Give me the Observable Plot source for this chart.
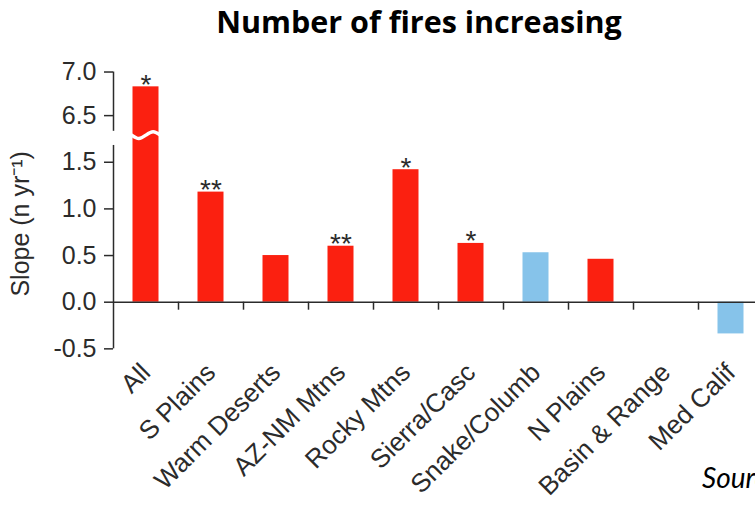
<!DOCTYPE html>
<html>
<head>
<meta charset="utf-8">
<script src="https://cdn.jsdelivr.net/npm/d3@7"></script>
<script src="https://cdn.jsdelivr.net/npm/@observablehq/plot@0.6"></script>
<style>
  html, body { margin: 0; padding: 0; background: #fff; width: 755px; height: 509px; overflow: hidden; }
  #page { position: relative; width: 755px; height: 509px; overflow: hidden; }
  #title { height: 46px; position: relative; }
  #title span {
    position: absolute; left: 419px; top: 3px; transform: translateX(-50%);
    font-family: "Open Sans", Lato, sans-serif; font-weight: 700; font-size: 30.5px;
    white-space: nowrap; color: #000; line-height: 1.2;
  }
  #source {
    position: absolute; left: 702px; top: 460px; white-space: nowrap;
    font-family: Lato, "Open Sans", sans-serif; font-style: italic; font-size: 28px; color: #000;
  }
</style>
</head>
<body>
<div id="page">
  <div id="title"><span>Number of fires increasing</span></div>
  <div id="chart"></div>
  <div id="source">Source</div>
</div>
<script>
// Trend in number of fires per region (slope, fires per year)
const categories = ["All", "S Plains", "Warm Deserts", "AZ-NM Mtns", "Rocky Mtns",
  "Sierra/Casc", "Snake/Columb", "N Plains", "Basin & Range", "Med Calif"];
const slopes = [6.83, 1.18, 0.50, 0.60, 1.42, 0.63, 0.53, 0.46, null, -0.34];
const significance = ["*", "**", "", "**", "*", "*", "", "", "", ""];
const groups = ["A", "A", "A", "A", "A", "A", "B", "A", null, "B"];

// y tick values and the broken-axis extents
const yTicks = [-0.5, 0, 0.5, 1.0, 1.5, 6.5, 7.0];
const lowerAxis = [-0.5, 1.68];
const upperAxis = [6.32, 7.0];
const breakLow = 1.77;   // lower part of the axis ends here
const breakHigh = 6.3;   // upper part starts here

const rows = categories.map((category, i) => ({
  category, index: i, slope: slopes[i], stars: significance[i], group: groups[i]
}));
const bars = rows.filter(d => d.slope != null);

// wavy white cut drawn across any bar that runs through the break
const breakMid = (breakLow + breakHigh) / 2;
const waveShape = [[0.28, breakMid], [0.39, breakLow - 0.015], [0.5, breakMid], [0.61, breakHigh + 0.015], [0.72, breakMid]];
const wave = bars.filter(d => d.slope > breakHigh)
  .flatMap(d => waveShape.map(([t, y]) => ({x: d.index + t, y, index: d.index})));

// layout
const width = 755, height = 463;
const zeroY = 255.7, unitLow = 93.3, unitHigh = 87.2, gap = 4;
const left = 113, band = 65;
const yBreakPx = zeroY - breakLow * unitLow;
const yRange = [
  zeroY + 0.5 * unitLow,
  yBreakPx,
  yBreakPx - gap,
  yBreakPx - gap - (7.0 - breakHigh) * unitHigh
];
const frameTop = zeroY - lowerAxis[1] * unitLow;

const ink = "#2b2b2b";

const chart = Plot.plot({
  width, height,
  marginLeft: left, marginRight: 0,
  marginTop: frameTop, marginBottom: height - zeroY,
  style: {fontFamily: "'Liberation Sans', Arial, sans-serif", fontSize: "25px", color: ink, background: "#fff", overflow: "hidden"},
  x: {type: "linear", domain: [0, categories.length], range: [left, left + band * categories.length]},
  y: {type: "linear", domain: [-0.5, breakLow, breakHigh, 7.0], range: yRange},
  color: {domain: ["A", "B"], range: ["#fb2010", "#86c3ea"]},
  marks: [
    Plot.rect(bars, {
      x1: d => d.index + 0.3, x2: d => d.index + 0.7,
      y1: () => 0, y2: "slope", fill: "group"
    }),
    Plot.line(wave, {x: "x", y: "y", z: "index", stroke: "#fff", strokeWidth: 3.5, curve: "natural"}),
    Plot.ruleY([0], {stroke: ink, strokeWidth: 1.5}),
    Plot.ruleX([lowerAxis, upperAxis], {x: 0, y1: d => d[0], y2: d => d[1], stroke: ink, strokeWidth: 1.5}),
    Plot.axisY({
      ticks: yTicks, tickFormat: d => d.toFixed(1),
      tickSize: 9, tickPadding: 8, strokeWidth: 1.5, fontSize: 25,
      label: "Slope (n yr\u207B\u00B9)", labelArrow: false,
      labelAnchor: "center", labelOffset: 102
    }),
    Plot.axisX({
      ticks: d3.range(1, categories.length + 1), tickFormat: () => "",
      tickSize: 8, strokeWidth: 1.5, label: null
    }),
    Plot.axisX({
      ticks: d3.range(categories.length).map(i => i + 0.5),
      tickFormat: t => categories[Math.floor(t)],
      tickSize: 0, tickPadding: 66, tickRotate: -45, fontSize: 26, label: null
    }),
    Plot.text(rows.filter(d => d.stars), {
      x: d => d.index + 0.5, y: "slope", text: "stars",
      lineAnchor: "bottom", dy: 7, fontSize: 28, fill: ink
    })
  ]
});

document.getElementById("chart").appendChild(chart);
</script>
</body>
</html>
